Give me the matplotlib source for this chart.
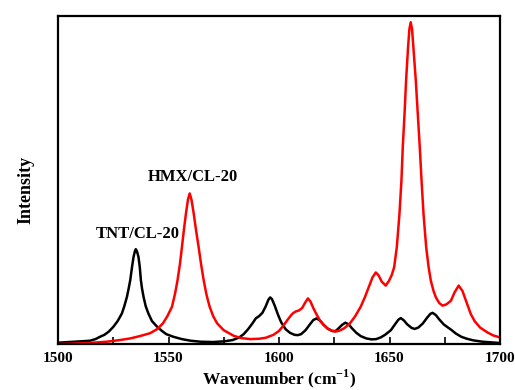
import matplotlib
matplotlib.use("Agg")
import matplotlib.pyplot as plt
from matplotlib.ticker import MultipleLocator

plt.rcParams['font.family'] = ['Liberation Serif', 'DejaVu Serif']
plt.rcParams['mathtext.fontset'] = 'custom'
plt.rcParams['mathtext.rm'] = 'Liberation Serif:bold'
plt.rcParams['mathtext.bf'] = 'Liberation Serif:bold'

# TNT/CL-20 (black)
tnt_x = [1500, 1505, 1510, 1514.5, 1517, 1519, 1521, 1523, 1525, 1527, 1528.9, 1530,
         1531.2, 1532, 1532.7, 1533.5, 1534.2, 1534.8, 1535.2, 1535.7, 1536.4, 1537,
         1537.5, 1538, 1538.7, 1539.7, 1540.9, 1542.5, 1544.8, 1547, 1549, 1552.2,
         1556, 1560, 1564.4, 1570, 1575, 1579, 1582, 1584, 1586, 1588, 1589.5, 1591,
         1592.5, 1594, 1595.2, 1596, 1596.8, 1598, 1599.5, 1601, 1603, 1605, 1607,
         1608.5, 1610, 1612, 1614, 1615.5, 1617, 1618.5, 1620, 1622, 1624, 1625.5,
         1627, 1628.5, 1630, 1631.5, 1633, 1635, 1637, 1639.5, 1642, 1644, 1646, 1648,
         1650.6, 1652.5, 1654, 1655.1, 1656.5, 1658, 1660, 1661.4, 1663, 1665, 1667,
         1668.5, 1669.5, 1671, 1672.5, 1674.5, 1676.3, 1678, 1680, 1682.5, 1685, 1688,
         1692, 1696, 1700]
tnt_y = [0.004, 0.006, 0.008, 0.010, 0.015, 0.022, 0.028, 0.038, 0.052, 0.070, 0.093, 0.115,
         0.144, 0.170, 0.195, 0.235, 0.266, 0.283, 0.289, 0.283, 0.266, 0.235,
         0.195, 0.170, 0.144, 0.115, 0.093, 0.070, 0.053, 0.040, 0.030, 0.022,
         0.015, 0.010, 0.007, 0.006, 0.008, 0.012, 0.020, 0.030, 0.045, 0.063, 0.078, 0.085,
         0.095, 0.115, 0.135, 0.142, 0.137, 0.118, 0.090, 0.066, 0.045, 0.034, 0.028,
         0.027, 0.030, 0.042, 0.060, 0.073, 0.078, 0.072, 0.060, 0.047, 0.040, 0.039,
         0.048, 0.058, 0.065, 0.060, 0.048, 0.034, 0.024, 0.017, 0.014, 0.015, 0.020, 0.028,
         0.042, 0.060, 0.074, 0.079, 0.072, 0.060, 0.049, 0.046, 0.050, 0.062, 0.080,
         0.092, 0.095, 0.088, 0.075, 0.060, 0.051, 0.043, 0.032, 0.022, 0.016, 0.011,
         0.007, 0.005, 0.003]

# HMX/CL-20 (red)
hmx_x = [1500, 1510, 1516, 1522, 1528, 1532.7, 1537, 1541.7, 1545, 1547.5, 1549.5, 1551.6,
         1553, 1554.1, 1555.2, 1556.1, 1557, 1557.9, 1558.8, 1559.6, 1560.4, 1561.4,
         1562.5, 1563.6, 1564.7, 1565.9, 1567.2, 1568.6, 1570.2, 1572, 1575, 1579.5,
         1583, 1587, 1591, 1594, 1597.5, 1600, 1602, 1604, 1606, 1607.5, 1609, 1610.5,
         1612, 1613.1, 1614.2, 1615.5, 1617, 1618.5, 1620.2, 1622, 1624, 1625.6, 1627.5,
         1629.5, 1632, 1634.5, 1637, 1639, 1640.7, 1642.3, 1643.8, 1645, 1646.5, 1648.3,
         1649.8, 1651, 1652.1, 1653.3, 1654.5, 1655.4, 1656, 1656.8, 1657.5, 1658.4, 1659,
         1659.6, 1660.2, 1660.8, 1661.9, 1662.8, 1663.7, 1664.5, 1665.4, 1666.6, 1667.7,
         1668.7, 1670, 1671, 1672.5, 1674, 1675.8, 1677.8, 1679.5, 1681.3, 1683, 1684.6,
         1686.8, 1688.5, 1691, 1694.4, 1697, 1700]
hmx_y = [0.000, 0.002, 0.004, 0.007, 0.012, 0.017, 0.024, 0.033, 0.046, 0.063, 0.085, 0.114,
         0.155, 0.195, 0.245, 0.297, 0.350, 0.398, 0.440, 0.459, 0.440, 0.398,
         0.345, 0.297, 0.245, 0.195, 0.150, 0.114, 0.085, 0.063, 0.042, 0.025,
         0.018, 0.015, 0.016, 0.019, 0.028, 0.040, 0.056, 0.075, 0.092, 0.099, 0.102, 0.110,
         0.128, 0.139, 0.130, 0.110, 0.090, 0.072, 0.058, 0.047, 0.040, 0.038, 0.041,
         0.048, 0.062, 0.085, 0.114, 0.145, 0.175, 0.203, 0.218, 0.210, 0.190, 0.178,
         0.193, 0.210, 0.234, 0.295, 0.396, 0.498, 0.600, 0.701, 0.803, 0.905, 0.960,
         0.981, 0.960, 0.905, 0.803, 0.701, 0.600, 0.498, 0.396, 0.295, 0.234,
         0.193, 0.160, 0.142, 0.125, 0.117, 0.121, 0.132, 0.158, 0.178, 0.162, 0.132,
         0.091, 0.070, 0.050, 0.035, 0.026, 0.020]

xticks = [1500, 1550, 1600, 1650, 1700]
xtick_labels = ['1500', '1550', '1600', '1650', '1700']

fig = plt.figure(figsize=(5.15, 3.9), dpi=100)
ax = fig.add_axes([58/515, 46/390, 442/515, 328/390])

ax.plot(tnt_x, tnt_y, color='black', lw=1.8, solid_joinstyle='round')
ax.plot(hmx_x, hmx_y, color='#ff0000', lw=1.8, solid_joinstyle='round')

ax.set_xlim(1500, 1700)
ax.set_ylim(0, 1)
ax.set_xticks(xticks)
ax.set_xticklabels(xtick_labels, fontweight='bold', fontsize=11)
ax.xaxis.set_minor_locator(MultipleLocator(25))
ax.tick_params(axis='x', which='both', direction='in', length=5, width=1.2,
               top=False, pad=6)
ax.set_yticks([])
for s in ax.spines.values():
    s.set_linewidth(1.6)

ax.set_xlabel('Wavenumber (cm$^{\\mathbf{-1}}$)', fontweight='bold', fontsize=12.5)
ax.xaxis.set_label_coords(0.5, -35/328)
ax.xaxis.label.set_va('center')
ax.set_ylabel('Intensity', fontweight='bold', fontsize=13)
ax.yaxis.set_label_coords(-32/442, 154/328)
ax.yaxis.label.set_va('center')

ax.text(1536.3, 0.335, 'TNT/CL-20', fontweight='bold', fontsize=12,
        ha='center', va='center')
ax.text(1561, 0.509, 'HMX/CL-20', fontweight='bold', fontsize=12,
        ha='center', va='center')

fig.savefig('out.png', dpi=100)
